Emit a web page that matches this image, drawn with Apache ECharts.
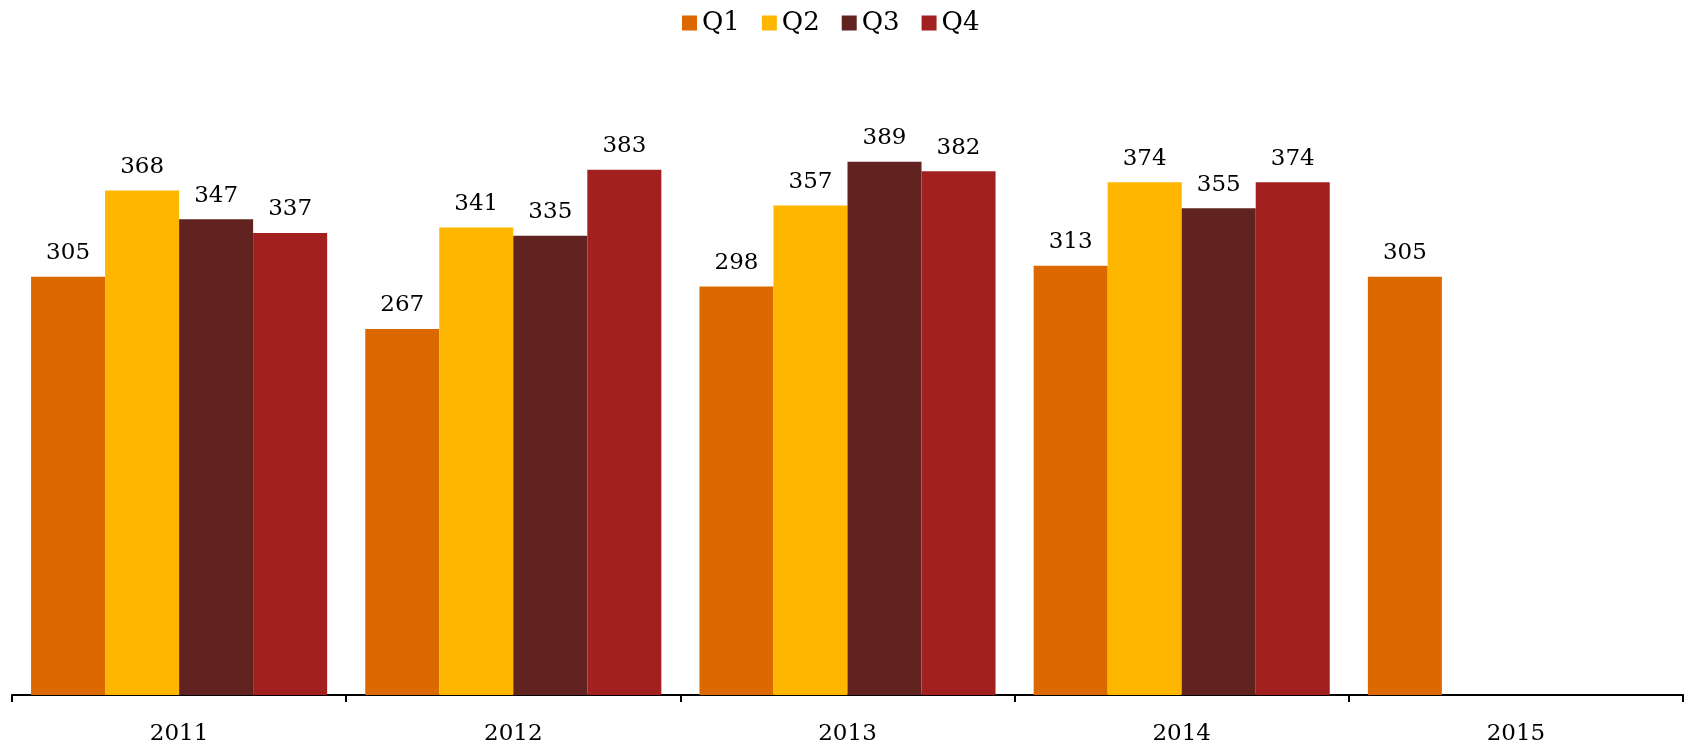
<!DOCTYPE html>
<html><head><meta charset="utf-8">
<script src="https://cdn.jsdelivr.net/npm/echarts@6/dist/echarts.min.js"></script>
<style>html,body{margin:0;padding:0;background:#fff}#c{width:1688px;height:750px}</style>
</head><body><div id="c"></div>
<script>
const categories = ['2011','2012','2013','2014','2015'];
const q1 = [305, 267, 298, 313, 305];
const q2 = [368, 341, 357, 374, null];
const q3 = [347, 335, 389, 355, null];
const q4 = [337, 383, 382, 374, null];
const seriesNames = ['Q1','Q2','Q3','Q4'];
const colors = ['#DC6900','#FFB600','#602320','#A32020'];
const font = 'DejaVu Serif';
const chart = echarts.init(document.getElementById('c'));
const mk = (name, data, i) => ({
  name, type: 'bar', data, barGap: '0%', barCategoryGap: '11.4%',
  itemStyle: { color: colors[i] },
  label: { show: true, position: 'top', distance: 12, color: '#000', fontFamily: font, fontSize: 23 }
});
chart.setOption({
  animation: false,
  color: colors,
  legend: { top: 5, left: 677, itemWidth: 15, itemHeight: 15, itemGap: 22,
    icon: 'rect', textStyle: { fontFamily: font, fontSize: 26, color: '#000' } },
  grid: { left: 12, right: 5, top: 78, bottom: 55, containLabel: false },
  xAxis: { type: 'category', data: categories,
    axisLine: { lineStyle: { color: '#000', width: 2 } },
    axisTick: { show: true, length: 7, lineStyle: { color: '#000', width: 2 } },
    axisLabel: { margin: 28, color: '#000', fontFamily: font, fontSize: 23 } },
  yAxis: { type: 'value', min: 0, max: 450, show: false, splitLine: { show: false } },
  series: [mk('Q1', q1, 0), mk('Q2', q2, 1), mk('Q3', q3, 2), mk('Q4', q4, 3)]
});
</script></body></html>
